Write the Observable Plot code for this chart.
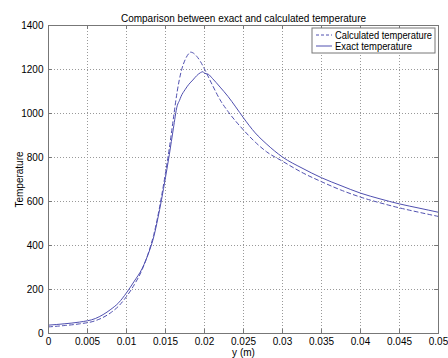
<!DOCTYPE html>
<html><head><meta charset="utf-8">
<script src="https://cdn.jsdelivr.net/npm/d3@7"></script>
<script src="https://cdn.jsdelivr.net/npm/@observablehq/plot@0.6"></script>
<style>
body{margin:0;background:#fff;}
svg{font-family:"Liberation Sans",Arial,sans-serif;}
</style></head><body>
<div id="chart"></div>
<script>
const title = "Comparison between exact and calculated temperature";
const xLabel = "y (m)";
const yLabel = "Temperature";
const seriesNames = ["Calculated temperature", "Exact temperature"];
const xTicks = [0,0.005,0.01,0.015,0.02,0.025,0.03,0.035,0.04,0.045,0.05];
const yTicks = [0,200,400,600,800,1000,1200,1400];

const exactX = [0,0.002,0.004,0.006,0.008,0.009,0.01,0.011,0.012,0.0125,0.013,0.0135,0.014,0.0145,0.015,0.0155,0.016,0.0165,0.0168,0.017,0.0175,0.018,0.0185,0.019,0.0195,0.0198,0.02,0.0205,0.021,0.022,0.023,0.024,0.025,0.0265,0.028,0.03,0.0325,0.035,0.0375,0.04,0.0425,0.045,0.0475,0.05];
const exactY = [38,44,52,68,110,140,185,238,295,335,382,440,520,610,710,815,930,1035,1060,1078,1108,1133,1152,1172,1186,1190,1183,1178,1160,1120,1078,1030,980,912,860,802,752,708,672,638,612,589,570,551];

const calcX = [0,0.002,0.004,0.006,0.008,0.009,0.01,0.011,0.012,0.0125,0.013,0.0135,0.014,0.0145,0.015,0.0155,0.016,0.0165,0.017,0.0175,0.018,0.0182,0.0185,0.019,0.0195,0.02,0.021,0.022,0.023,0.024,0.025,0.0265,0.028,0.03,0.0325,0.035,0.0375,0.04,0.0425,0.045,0.0475,0.05];
const calcY = [30,36,44,58,95,125,168,222,290,335,388,450,530,625,730,845,975,1100,1190,1243,1273,1279,1276,1260,1235,1202,1130,1062,1010,965,925,870,825,783,732,690,652,620,594,571,551,532];

const lineColor = "#5050b0";
const exact = exactX.map((x,i)=>({x, y: exactY[i]}));
const calc = calcX.map((x,i)=>({x, y: calcY[i]}));

const chart = Plot.plot({
  width: 448, height: 358,
  marginLeft: 48, marginRight: 10, marginTop: 25, marginBottom: 25,
  style: {fontFamily: '"Liberation Sans", Arial, sans-serif', fontSize: "10px", background: "#fff"},
  x: {domain: [0, 0.05]},
  y: {domain: [0, 1400]},
  marks: [
    Plot.gridX(xTicks.slice(1,-1), {stroke: "#999", strokeOpacity: 1, strokeDasharray: "1,2"}),
    Plot.gridY(yTicks.slice(1,-1), {stroke: "#999", strokeOpacity: 1, strokeDasharray: "1,2"}),
    Plot.axisX(xTicks, {tickSize: 0, tickPadding: 4, tickFormat: d => String(d), label: xLabel, labelAnchor: "center", labelArrow: "none", labelOffset: 22, fontSize: 10, color: "#000"}),
    Plot.axisY(yTicks, {tickSize: 0, tickPadding: 5, tickFormat: d => String(d), label: yLabel, labelAnchor: "center", labelArrow: "none", labelOffset: 33, fontSize: 10, color: "#000"}),
    Plot.ruleX(xTicks, {y1: 0, y2: 18, stroke: "#777"}),
    Plot.ruleX(xTicks, {y1: 1382, y2: 1400, stroke: "#777"}),
    Plot.ruleY(yTicks, {x1: 0, x2: 0.0005, stroke: "#777"}),
    Plot.ruleY(yTicks, {x1: 0.0495, x2: 0.05, stroke: "#777"}),
    Plot.line(calc, {x: "x", y: "y", stroke: lineColor, strokeWidth: 1, strokeDasharray: "4,3", curve: "monotone-x"}),
    Plot.line(exact, {x: "x", y: "y", stroke: lineColor, strokeWidth: 1, curve: "monotone-x"}),
    Plot.frame({stroke: "#777"}),
    Plot.text([title], {frameAnchor: "top", dy: -11, fontSize: 10, fill: "#000"})
  ]
});
document.getElementById("chart").appendChild(chart);

// legend box (MATLAB style), placed in the upper right of the plot frame
const svg = d3.select(chart);
const g = svg.append("g").attr("font-size", 10).attr("text-anchor", "start")
  .attr("font-family", '"Liberation Sans", Arial, sans-serif');
g.append("rect").attr("x", 312).attr("y", 28).attr("width", 123).attr("height", 25)
  .attr("fill", "#fff").attr("stroke", "#777");
seriesNames.forEach((name, i) => {
  const yy = 35 + i * 11;
  g.append("line").attr("x1", 316).attr("x2", 332).attr("y1", yy).attr("y2", yy)
    .attr("stroke", lineColor).attr("stroke-dasharray", i === 0 ? "3,2" : null);
  const t = g.append("text").attr("x", 335).attr("y", yy).attr("dy", "0.35em")
    .attr("text-anchor", "start").attr("fill", "#000").text(name);
  if (i === 0) t.attr("textLength", 97).attr("lengthAdjust", "spacingAndGlyphs");
  else t.attr("textLength", 77).attr("lengthAdjust", "spacingAndGlyphs");
});
</script>
</body></html>
